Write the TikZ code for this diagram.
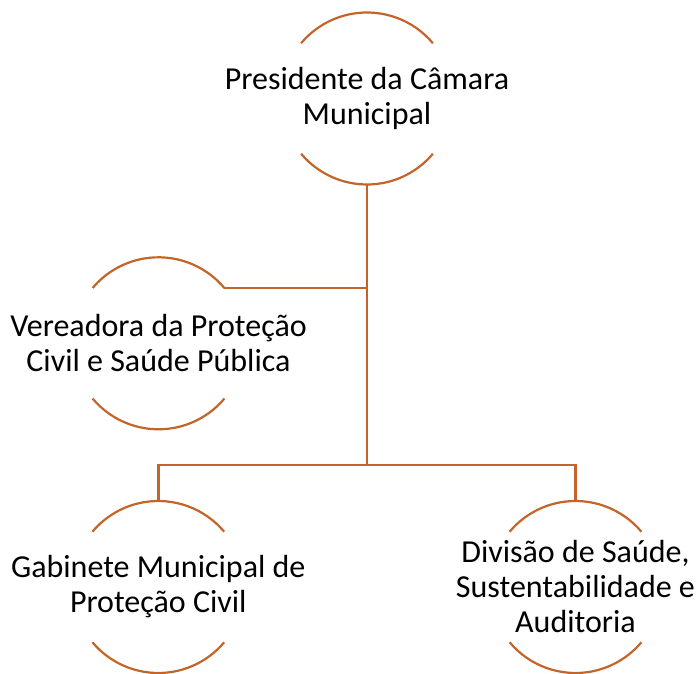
\documentclass[tikz,border=0pt]{standalone}
\usepackage{fontspec}
\setmainfont{Carlito}
\usetikzlibrary{calc}
\definecolor{arcorange}{RGB}{197,100,40}
\begin{document}
\begin{tikzpicture}[x=1pt,y=1pt,
  unit/.style={inner sep=0pt,align=center,
    font=\fontsize{32}{35}\selectfont,text=black},
  link/.style={draw=arcorange,line width=2.6pt},
  ring/.style={draw=arcorange,line width=2.2pt}]
\useasboundingbox (0,0) rectangle (696,673);
\node[unit] (p) at (367,574.5) {Presidente da Câmara\\Municipal};
\node[unit] (v) at (158.5,329.7) {Vereadora da Proteção\\Civil e Saúde Pública};
\node[unit] (g) at (158.3,86) {Gabinete Municipal de\\Proteção Civil};
\node[unit] (d) at (575.5,86) {Divisão de Saúde,\\Sustentabilidade e\\Auditoria};
\foreach \n in {p,v,g,d}{
  \draw[ring] (\n.center) ++(40:86) arc[start angle=40,end angle=140,radius=86];
  \draw[ring] (\n.center) ++(220:86) arc[start angle=220,end angle=320,radius=86];
}
\coordinate (pbot) at ($(p.center)+(0,-86)$);
\coordinate (vne) at ($(v.center)+(40:86)$);
\coordinate (gtop) at ($(g.center)+(0,86)$);
\coordinate (dtop) at ($(d.center)+(0,86)$);
\coordinate (bar) at (367,208);
\draw[link] (pbot) -- (bar);
\draw[link] (vne) -- (vne -| pbot);
\draw[link] (gtop) -- (gtop |- bar) -- (dtop |- bar) -- (dtop);
\end{tikzpicture}
\end{document}
